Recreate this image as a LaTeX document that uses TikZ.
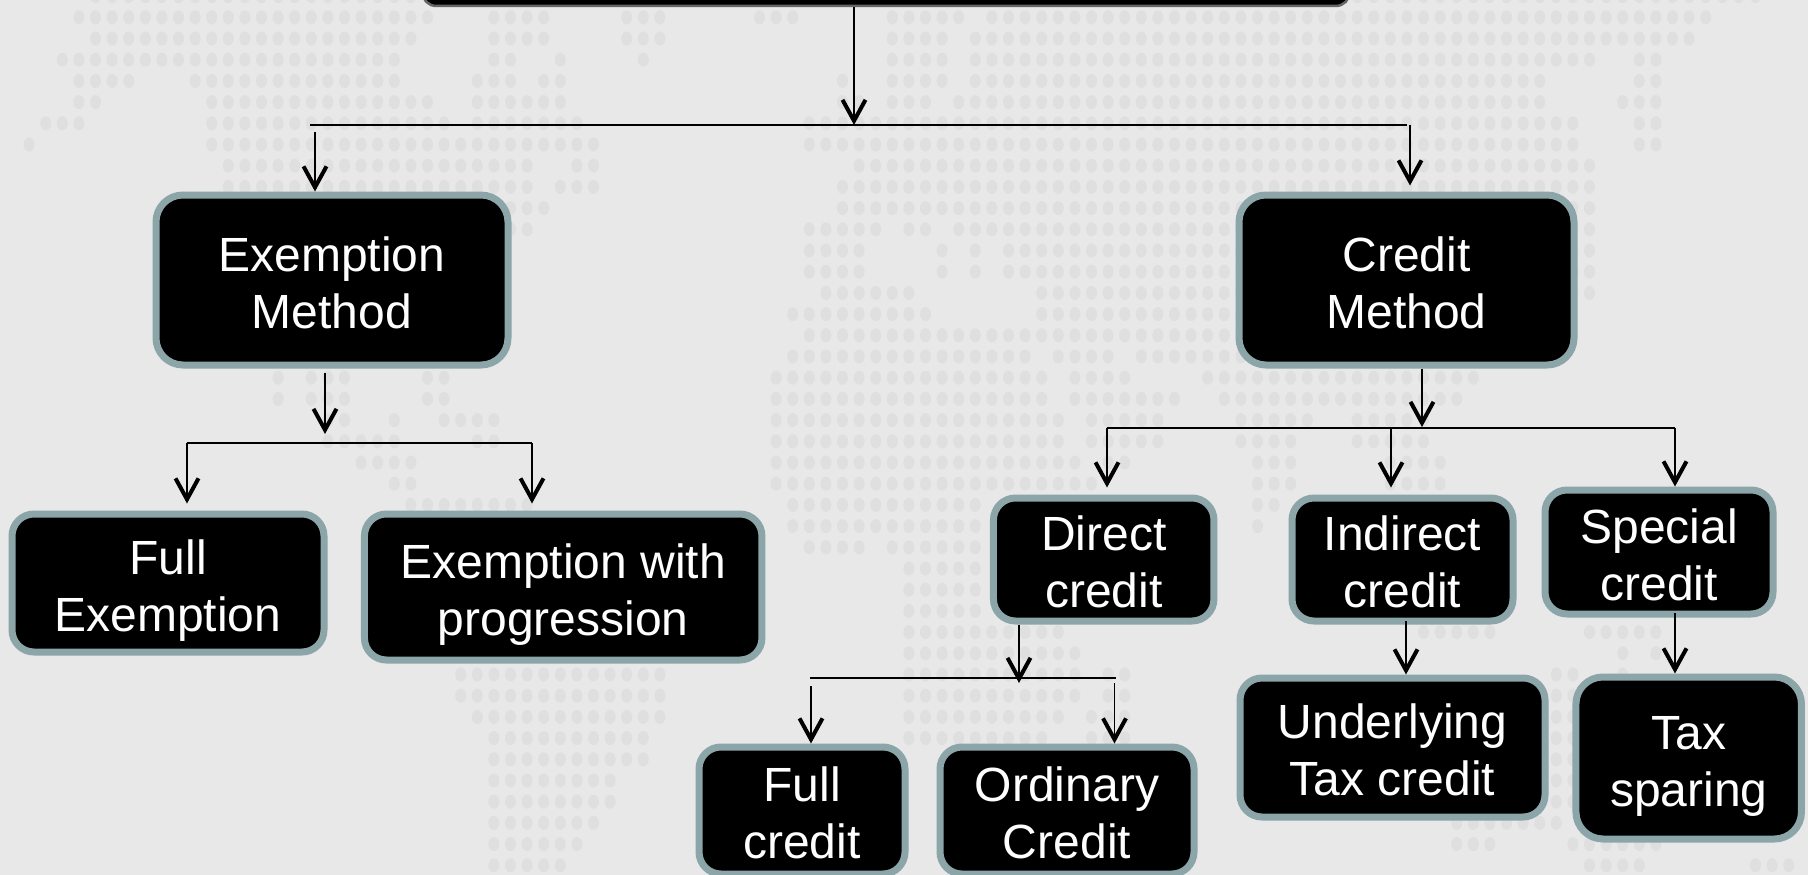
\documentclass[tikz,border=0pt]{standalone}
\usepackage{fontspec}
\setmainfont{Liberation Sans}
\usetikzlibrary{arrows.meta,calc}
\definecolor{bgc}{HTML}{E8E8E8}
\definecolor{dotc}{HTML}{DFDFDF}
\definecolor{edgec}{HTML}{8BA5A8}
\newcommand{\twolines}[2]{\rule{0pt}{52pt}#1\\#2\rule[-13pt]{0pt}{13pt}}
\tikzset{
  box/.style={draw=edgec,line width=7pt,fill=black,rounded corners=22pt,text=white,align=center,inner sep=0pt,
    font=\fontsize{48}{57}\selectfont},
  arr/.style={line width=1.5pt,draw=black,-{Straight Barb[length=21pt,width=23pt,line width=4pt]}},
  bus/.style={line width=2.2pt,draw=black},
}
\begin{document}
\begin{tikzpicture}[x=1pt,y=-1pt]
\path[use as bounding box] (0,0) rectangle (1808,875);
\clip (0,0) rectangle (1808,875);
\fill[bgc] (0,0) rectangle (1808,875);
% dotted world map: row / first column / last column
\foreach \r/\a/\b in {
0/5/24,0/81/105,
1/4/25,1/29/32,1/37/39,1/45/47,1/53/57,1/59/102,
2/5/24,2/29/32,2/37/39,2/53/56,2/58/101,
3/3/23,3/29/30,3/33/33,3/38/38,3/53/56,3/58/95,3/98/99,
4/4/7,4/11/23,4/28/30,4/32/33,4/50/50,4/53/56,4/58/92,4/98/99,
5/4/5,5/12/25,5/28/33,5/50/51,5/53/55,5/57/92,5/97/99,
6/2/4,6/12/26,6/28/34,6/48/94,6/98/99,
7/1/1,7/12/35,7/48/94,7/98/99,
8/13/31,8/34/35,8/51/95,
9/13/31,9/33/35,9/50/95,
10/13/32,10/50/95,
11/14/31,11/48/52,11/54/55,11/57/95,
12/48/51,12/56/56,12/58/58,12/60/95,
13/48/51,13/56/56,13/58/58,13/60/95,
14/49/54,14/62/95,
15/47/55,15/62/93,
16/48/74,
17/47/61,17/63/66,17/68/74,
18/16/16,18/18/20,18/25/26,18/46/62,18/64/67,18/72/88,
19/16/16,19/18/20,19/25/26,19/46/62,19/64/70,19/73/87,
20/19/20,20/23/23,20/26/29,20/46/63,20/65/69,20/74/78,20/81/85,
21/19/23,21/28/29,21/46/63,21/65/69,21/74/77,21/81/85,
22/21/24,22/46/64,22/66/67,22/75/77,22/83/86,
23/23/24,23/46/65,23/75/77,23/83/86,
24/24/31,24/47/58,24/75/76,
25/47/58,25/75/75,
26/48/51,26/53/58,
27/54/58,
28/54/58,
29/54/58,
30/54/63,30/85/89,30/95/99,
31/54/64,31/97/97,31/99/99,
32/27/39,32/54/64,32/66/67,32/93/94,32/97/97,
33/27/39,33/54/64,33/66/67,33/93/94,
34/28/39,34/54/63,34/65/67,34/93/94,
35/29/38,35/54/62,35/65/67,35/93/94,
36/29/38,36/93/94,
37/29/36,37/93/94,
38/29/36,38/92/94,
39/29/35,39/87/93,
40/29/34,40/87/89,40/94/99,
41/29/33,41/95/98,41/105/107}{
  \foreach \c in {\a,...,\b}{
    \fill[dotc] ({12.5+16.6*\c},{-3.9+21.2*\r}) ellipse [x radius=5.5,y radius=7];
  }
}
% boxes
\node[box,draw=gray!80!black,line width=2.5pt,minimum width=927.5pt,minimum height=80pt,rounded corners=14pt] (top) at (886,-34) {};
\node[box,rounded corners=27pt,minimum width=352pt,minimum height=170pt] (exm) at (332,280) {\twolines{Exemption}{Method}};
\node[box,rounded corners=27pt,minimum width=335pt,minimum height=170pt] (crm) at (1406.5,280) {\twolines{Credit}{Method}};
\node[box,minimum width=312pt,minimum height=138pt] (fex) at (168,583) {\twolines{Full}{Exemption}};
\node[box,minimum width=397.5pt,minimum height=146pt] (epr) at (563.2,587) {\twolines{Exemption with}{progression}};
\node[box,minimum width=206pt,minimum height=127pt] (fcr) at (802,810.5) {\twolines{Full}{credit}};
\node[box,minimum width=254pt,minimum height=127pt] (ocr) at (1067,810.5) {\twolines{Ordinary}{Credit}};
\node[box,minimum width=220.5pt,minimum height=123pt] (dir) at (1103.7,559.5) {\twolines{Direct}{credit}};
\node[box,minimum width=221pt,minimum height=123pt] (ind) at (1402.5,559.5) {\twolines{Indirect}{credit}};
\node[box,minimum width=228pt,minimum height=124pt] (spc) at (1659,552) {\twolines{Special}{credit}};
\node[box,minimum width=305pt,minimum height=139pt] (und) at (1392.5,747.5) {\twolines{Underlying}{Tax credit}};
\node[box,rounded corners=27pt,minimum width=225.5pt,minimum height=162pt] (tax) at (1688.7,758) {\twolines{Tax}{sparing}};
% junction points
\coordinate (t1) at (854,125);
\coordinate (b1L) at (310,125);
\coordinate (b1R) at (1407,125);
\coordinate (b1a) at (315,132);
\coordinate (b1b) at (1410,125);
\coordinate (e1) at (325,434);
\coordinate (e2L) at (187,443);
\coordinate (e2R) at (532,443);
\coordinate (c1) at (1422,427);
\coordinate (c2L) at (1107,428);
\coordinate (c2M) at (1391,428);
\coordinate (c2R) at (1675,428);
\coordinate (d1) at (1019,683);
\coordinate (d2L) at (810,678);
\coordinate (d2R) at (1116,678);
\coordinate (d3a) at (811,686);
\coordinate (d3b) at (1114.5,683);
\coordinate (ix) at (1406,621);
\coordinate (sx) at (1675,613);
% connectors
\draw[bus] (b1L) -- (b1R);
\draw[arr] (top.south -| t1) -- (t1);
\draw[arr] (b1a) -- (exm.north -| b1a);
\draw[arr,shorten >=6pt] (b1b) -- (crm.north -| b1b);
\draw[arr,shorten <=4pt] (exm.south -| e1) -- (e1);
\draw[bus] (e2L) -- (e2R);
\draw[arr,shorten >=7pt] (e2L) -- (fex.north -| e2L);
\draw[arr,shorten >=7pt] (e2R) -- (epr.north -| e2R);
\draw[arr] (crm.south -| c1) -- (c1);
\draw[bus] (c2L) -- (c2R);
\draw[arr,shorten >=7pt] (c2L) -- (dir.north -| c2L);
\draw[arr,shorten >=7pt] (c2M) -- (ind.north -| c2M);
\draw[arr] (c2R) -- (spc.north -| c2R);
\draw[arr] (dir.south -| d1) -- (d1);
\draw[bus] (d2L) -- (d2R);
\draw[arr] (d3a) -- (fcr.north -| d3a);
\draw[arr] (d3b) -- (ocr.north -| d3b);
\draw[arr] (ix) -- (und.north -| ix);
\draw[arr] (sx) -- (tax.north -| sx);
\end{tikzpicture}
\end{document}
